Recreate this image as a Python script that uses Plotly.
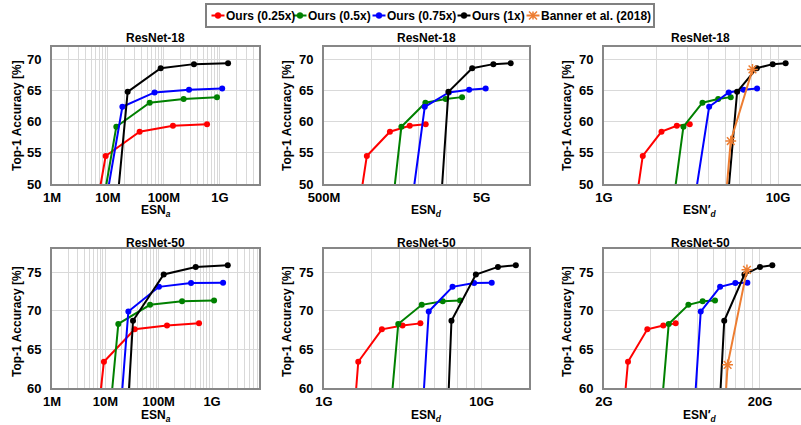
import plotly.graph_objects as go

# ---------------- data ----------------
SERIES_NAMES = ["Ours (0.25x)", "Ours (0.5x)", "Ours (0.75x)", "Ours (1x)"]
BANNER_NAME = "Banner et al. (2018)"
ROW_TITLES = ["ResNet-18", "ResNet-50"]

# ResNet-18 top-1 accuracy [%] (first entry: collapsed point below the axis range)
R18_ACC_025 = [0.1, 54.5, 58.4, 59.35, 59.6]
R18_ACC_050 = [0.1, 59.2, 63.05, 63.65, 63.95]
R18_ACC_075 = [0.1, 62.4, 64.7, 65.15, 65.35]
R18_ACC_100 = [0.1, 64.8, 68.6, 69.25, 69.4]
R18_ACC_BANNER = [0.1, 56.9, 68.4]

R18_ESNA_025 = [7.7e5, 9.1e6, 3.68e7, 1.45e8, 5.89e8]
R18_ESNA_050 = [1.02e6, 1.41e7, 5.56e7, 2.25e8, 8.87e8]
R18_ESNA_075 = [1.14e6, 1.81e7, 6.8e7, 2.81e8, 1.1e9]
R18_ESNA_100 = [4.7e6, 2.25e7, 8.75e7, 3.44e8, 1.4e9]

R18_ESND_025 = [4.4e8, 9.35e8, 1.31e9, 1.75e9, 2.21e9]
R18_ESND_050 = [8.4e8, 1.55e9, 2.2e9, 2.96e9, 3.76e9]
R18_ESND_075 = [1.02e9, 2.18e9, 3.1e9, 4.17e9, 5.31e9]
R18_ESND_100 = [2.07e9, 3.08e9, 4.36e9, 5.94e9, 7.65e9]

R18_ESNDP_025 = [8.7e8, 1.67e9, 2.14e9, 2.62e9, 3.11e9]
R18_ESNDP_050 = [1.49e9, 2.86e9, 3.68e9, 4.53e9, 5.35e9]
R18_ESNDP_075 = [1.81e9, 4.02e9, 5.21e9, 6.35e9, 7.58e9]
R18_ESNDP_100 = [3.66e9, 5.82e9, 7.55e9, 9.32e9, 1.106e10]
R18_ESNDP_BANNER = [3.58e9, 5.35e9, 7.13e9]

# ResNet-50
R50_ACC_025 = [0.1, 63.4, 67.6, 68.1, 68.37]
R50_ACC_050 = [0.1, 68.3, 70.77, 71.22, 71.32]
R50_ACC_075 = [0.1, 69.9, 73.1, 73.6, 73.64]
R50_ACC_100 = [0.1, 68.7, 74.7, 75.68, 75.89]
R50_ACC_BANNER = [0.1, 63.0, 75.3]

R50_ESNA_025 = [9.0e5, 9.4e6, 3.55e7, 1.43e8, 5.7e8]
R50_ESNA_050 = [2.07e6, 1.75e7, 6.88e7, 2.74e8, 1.09e9]
R50_ESNA_075 = [4.4e6, 2.7e7, 1.01e8, 4.04e8, 1.61e9]
R50_ESNA_100 = [8.5e6, 3.3e7, 1.24e8, 4.94e8, 1.97e9]

R50_ESND_025 = [9.46e8, 1.65e9, 2.33e9, 3.15e9, 4.09e9]
R50_ESND_050 = [1.5e9, 2.96e9, 4.17e9, 5.67e9, 7.31e9]
R50_ESND_075 = [2.84e9, 4.62e9, 6.54e9, 8.97e9, 1.16e10]
R50_ESND_100 = [4.73e9, 6.44e9, 9.2e9, 1.27e10, 1.65e10]

R50_ESNDP_025 = [1.5e9, 2.85e9, 3.79e9, 4.8e9, 5.76e9]
R50_ESNDP_050 = [2.68e9, 5.2e9, 6.95e9, 8.58e9, 1.03e10]
R50_ESNDP_075 = [4.97e9, 8.34e9, 1.11e10, 1.39e10, 1.66e10]
R50_ESNDP_100 = [7.74e9, 1.18e10, 1.59e10, 2.0e10, 2.4e10]
R50_ESNDP_BANNER = [8.0e9, 1.24e10, 1.65e10]

# tick labels
TL_LABELS = {1e6: "1M", 1e7: "10M", 1e8: "100M", 1e9: "1G"}
TM_LABELS = {5e8: "500M", 5e9: "5G"}
TR_LABELS = {1e9: "1G", 1e10: "10G"}
BM_LABELS = {1e9: "1G", 1e10: "10G"}
BR_LABELS = {2e9: "2G", 2e10: "20G"}
Y_TICKS_R18 = [50, 55, 60, 65, 70]
Y_TICKS_R50 = [60, 65, 70, 75]

# ---------------- style / layout ----------------
W, H = 801, 425
COLORS = ["#FF0000", "#008000", "#0000FF", "#000000"]
BANNER_COLOR = "#ED7D31"
GRID = "#D9D9D9"
BORDER = "#878787"
FONT = "Liberation Sans, Arial, sans-serif"


def px(x):
    return x / W


def py(y):
    return 1 - y / H


def decade_grid(e0, e1, extra):
    return [d * 10 ** e for e in range(e0, e1) for d in range(1, 10)] + extra


TL_GRID = decade_grid(6, 9, [1e9, 2e9, 3e9, 4e9, 5e9])
BL_GRID = decade_grid(6, 9, [1e9, 2e9, 3e9, 4e9, 5e9, 6e9, 7e9])
TM_GRID = [5e8, 1e9, 1.5e9, 2e9, 2.5e9, 3e9, 3.5e9, 4e9, 4.5e9, 5e9, 1e10]
TR_GRID = decade_grid(9, 10, [1e10])
BM_GRID = decade_grid(9, 10, [1e10, 2e10])
BR_GRID = [2e9 * k for k in range(1, 11)]

XDOM = [[px(52), px(259)], [px(324), px(529)], [px(604), 1.0]]
YDOM = [[py(184), py(47)], [py(388), py(249)]]

panels = [
    dict(row=0, col=0, xs=[R18_ESNA_025, R18_ESNA_050, R18_ESNA_075, R18_ESNA_100],
         acc=[R18_ACC_025, R18_ACC_050, R18_ACC_075, R18_ACC_100], banner=None,
         xr=[6, 9.699], grid=TL_GRID, labels=TL_LABELS, xt="<b>ESN<sub><i>a</i></sub></b>"),
    dict(row=0, col=1, xs=[R18_ESND_025, R18_ESND_050, R18_ESND_075, R18_ESND_100],
         acc=[R18_ACC_025, R18_ACC_050, R18_ACC_075, R18_ACC_100], banner=None,
         xr=[8.699, 10.0], grid=TM_GRID, labels=TM_LABELS, xt="<b>ESN<sub><i>d</i></sub></b>"),
    dict(row=0, col=2, xs=[R18_ESNDP_025, R18_ESNDP_050, R18_ESNDP_075, R18_ESNDP_100],
         acc=[R18_ACC_025, R18_ACC_050, R18_ACC_075, R18_ACC_100],
         banner=(R18_ESNDP_BANNER, R18_ACC_BANNER),
         xr=[9, 10.132], grid=TR_GRID, labels=TR_LABELS, xt="<b>ESN′<sub><i>d</i></sub></b>"),
    dict(row=1, col=0, xs=[R50_ESNA_025, R50_ESNA_050, R50_ESNA_075, R50_ESNA_100],
         acc=[R50_ACC_025, R50_ACC_050, R50_ACC_075, R50_ACC_100], banner=None,
         xr=[6, 9.88], grid=BL_GRID, labels=TL_LABELS, xt="<b>ESN<sub><i>a</i></sub></b>"),
    dict(row=1, col=1, xs=[R50_ESND_025, R50_ESND_050, R50_ESND_075, R50_ESND_100],
         acc=[R50_ACC_025, R50_ACC_050, R50_ACC_075, R50_ACC_100], banner=None,
         xr=[9, 10.301], grid=BM_GRID, labels=BM_LABELS, xt="<b>ESN<sub><i>d</i></sub></b>"),
    dict(row=1, col=2, xs=[R50_ESNDP_025, R50_ESNDP_050, R50_ESNDP_075, R50_ESNDP_100],
         acc=[R50_ACC_025, R50_ACC_050, R50_ACC_075, R50_ACC_100],
         banner=(R50_ESNDP_BANNER, R50_ACC_BANNER),
         xr=[9.301, 10.564], grid=BR_GRID, labels=BR_LABELS, xt="<b>ESN′<sub><i>d</i></sub></b>"),
]

fig = go.Figure()
layout = dict(
    width=W, height=H, margin=dict(l=0, r=0, t=0, b=0, autoexpand=False),
    paper_bgcolor="white", plot_bgcolor="white", showlegend=False,
    font=dict(family=FONT, color="black", size=12),
)
annotations = []
shapes = []

TITLE_Y = [38, 243]
XTITLE_Y = [211, 416]
YTITLE_X = [17, 287, 567]
YTITLE_Y = [116, 322]
PANEL_XC = [px(155.5), px(426.5), px(700)]

for i, p in enumerate(panels, start=1):
    xa, ya = f"x{i}", f"y{i}"
    for k in range(4):
        fig.add_trace(go.Scatter(
            x=p["xs"][k], y=p["acc"][k], name=SERIES_NAMES[k], xaxis=xa, yaxis=ya,
            mode="lines+markers", line=dict(color=COLORS[k], width=2),
            marker=dict(color=COLORS[k], size=6, symbol="circle")))
    if p["banner"] is not None:
        bx, by = p["banner"]
        fig.add_trace(go.Scatter(
            x=bx, y=by, name=BANNER_NAME, xaxis=xa, yaxis=ya, mode="lines+markers",
            line=dict(color=BANNER_COLOR, width=2),
            marker=dict(color=BANNER_COLOR, size=9, symbol="asterisk-open",
                        line=dict(color=BANNER_COLOR, width=1.5))))
    r, c = p["row"], p["col"]
    yticks = Y_TICKS_R18 if r == 0 else Y_TICKS_R50
    yr = [50, 72] if r == 0 else [60, 78]
    major = sorted(p["labels"].keys())
    minor = [v for v in p["grid"] if v not in p["labels"]]
    layout[f"xaxis{i}"] = dict(
        domain=XDOM[c], anchor=ya, type="log", range=p["xr"], automargin=False,
        tickmode="array", tickvals=major, ticktext=[p["labels"][v] for v in major],
        minor=dict(tickmode="array", tickvals=minor, showgrid=True, gridcolor=GRID,
                   gridwidth=1, ticks=""),
        showgrid=True, gridcolor=GRID, gridwidth=1, zeroline=False,
        showline=True, linecolor=BORDER, linewidth=2, mirror=True,
        ticks="", tickfont=dict(size=13, weight="bold", family=FONT),
        ticklabelstandoff=0, fixedrange=True,
    )
    layout[f"yaxis{i}"] = dict(
        domain=YDOM[r], anchor=xa, range=yr, tickmode="array", tickvals=yticks,
        automargin=False,
        showgrid=True, gridcolor=GRID, gridwidth=1, zeroline=False,
        showline=True, linecolor=BORDER, linewidth=2, mirror=(c != 2),
        ticks="", tickfont=dict(size=13, weight="bold", family=FONT),
        ticklabelstandoff=6, fixedrange=True,
    )
    annotations.append(dict(text=f"<b>{ROW_TITLES[r]}</b>", x=PANEL_XC[c],
                            y=py(TITLE_Y[r]), xref="paper", yref="paper", showarrow=False,
                            font=dict(size=12, family=FONT), xanchor="center", yanchor="middle"))
    annotations.append(dict(text=p["xt"], x=PANEL_XC[c],
                            y=py(XTITLE_Y[r]), xref="paper", yref="paper", showarrow=False,
                            font=dict(size=12, family=FONT), xanchor="center", yanchor="middle"))
    annotations.append(dict(text="<b>Top-1 Accuracy [%]</b>", x=px(YTITLE_X[c]), y=py(YTITLE_Y[r]),
                            xref="paper", yref="paper", showarrow=False, textangle=-90,
                            font=dict(size=12, family=FONT), xanchor="center", yanchor="middle"))

# ---------------- legend (drawn manually to match the compact box) ----------------
LEG_Y = 15.5
shapes.append(dict(type="rect", xref="paper", yref="paper", x0=px(206), x1=px(654),
                   y0=py(27), y1=py(4), line=dict(color="#808080", width=2),
                   fillcolor="white", layer="above"))
leg_items = SERIES_NAMES + [BANNER_NAME]
leg_colors = COLORS + [BANNER_COLOR]
leg_mark = [218, 300, 379, 464, 533]
for k, (name, col, m) in enumerate(zip(leg_items, leg_colors, leg_mark)):
    shapes.append(dict(type="line", xref="paper", yref="paper", x0=px(m - 6.5), x1=px(m + 6.5),
                       y0=py(LEG_Y), y1=py(LEG_Y), line=dict(color=col, width=2), layer="above"))
    if k < 4:
        shapes.append(dict(type="circle", xref="paper", yref="paper", x0=px(m - 3), x1=px(m + 3),
                           y0=py(LEG_Y + 3), y1=py(LEG_Y - 3), fillcolor=col,
                           line=dict(color=col, width=0.5), layer="above"))
    else:
        a = 4
        path = (f"M {px(m - a)} {py(LEG_Y - a)} L {px(m + a)} {py(LEG_Y + a)} "
                f"M {px(m - a)} {py(LEG_Y + a)} L {px(m + a)} {py(LEG_Y - a)} "
                f"M {px(m)} {py(LEG_Y - a)} L {px(m)} {py(LEG_Y + a)}")
        shapes.append(dict(type="path", xref="paper", yref="paper", path=path,
                           line=dict(color=col, width=1.5), layer="above"))
    annotations.append(dict(text=f"<b>{name}</b>", x=px(m + 6), y=py(LEG_Y), xref="paper",
                            yref="paper", showarrow=False, xanchor="left", yanchor="middle",
                            font=dict(size=12, family=FONT, color="black")))

layout["annotations"] = annotations
layout["shapes"] = shapes
fig.update_layout(**layout)
fig.write_html(
    "out.html",
    config={"displayModeBar": False},
    post_script="document.body.style.margin='0px';document.body.style.padding='0px';",
)
